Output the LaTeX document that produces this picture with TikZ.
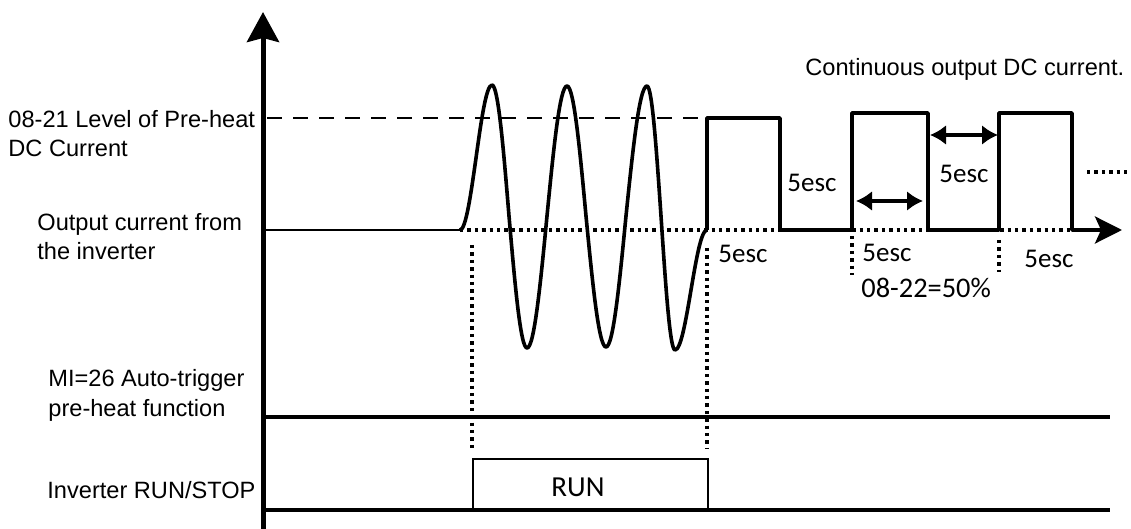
\documentclass[tikz,border=0pt]{standalone}
\usepackage{fontspec}
\setmainfont{Liberation Sans}
\newfontfamily\calibri{Carlito}
\usetikzlibrary{arrows.meta}

\tikzset{
  lbl/.style={anchor=base west, inner sep=0pt, align=left, font=\fontsize{11.8}{14.5}\selectfont},
  sec/.style={anchor=base west, inner sep=0pt, font=\calibri\fontsize{13.5}{16}\selectfont},
  wave/.style={line width=1.8pt, line join=round},
  dots/.style={line width=1.7pt, dash pattern=on 1.7pt off 2pt},
  sigline/.style={line width=2pt},
  span/.style={line width=2pt, {Latex[length=8pt,width=10pt]}-{Latex[length=8pt,width=10pt]}},
}

\begin{document}
\begin{tikzpicture}[x=0.5pt, y=-0.5pt]
  \useasboundingbox (0,0) rectangle (1131,529);
  % axis
  \draw[line width=2.5pt, -{Stealth[length=15pt,width=16pt,inset=2pt]}] (263,529) -- (263,12);
  \draw[line width=0.8pt, dash pattern=on 7.5pt off 5.5pt] (267,118) -- (700,118);
  \draw[line width=1.4pt] (263,230) -- (460,230);
  \draw[dots] (460,230) -- (1100,230);
  \draw[dots] (472,245) -- (472,448);
  \draw[dots] (707,248) -- (707,448);
  \draw[dots] (852,236) -- (852,275);
  \draw[dots] (999,240) -- (999,272);
  \draw[dots] (1087,172) -- (1131,172);
  \draw[sigline] (263,417) -- (1110,417);
  \draw[sigline] (263,510) -- (1110,510);
  % pre-heat wave and DC pulses
  \draw[wave] (460,230) cos (476,158) sin (492,85) cos (509,216) sin (527,348)
    cos (547,216) sin (567,86) cos (586,216) sin (606,347)
    cos (626,216) sin (647,86) cos (661,216) sin (675,350)
    cos (691,290) sin (707,230);
  \draw[wave, -{Stealth[length=13.5pt,width=13.5pt,inset=3pt]}] (707,230) -- (707,118) -- (780,118) -- (780,230)
    -- (852,230) -- (852,113) -- (928,113) -- (928,230) -- (999,230) -- (999,113)
    -- (1072,113) -- (1072,230) -- (1122,230);
  \draw[span] (856,201) -- (923,201);
  \draw[span] (930,135) -- (998,135);
  \draw[line width=0.8pt] (473,510) -- (473,459) -- (708,459) -- (708,510);
  % labels (base = last line)
  \node[lbl] (lvl) at (8,157) {08-21 Level of Pre-heat\\DC Current};
  \node[lbl] (outcur) at (37,260) {Output current from\\the inverter};
  \node[lbl] (mi) at (48,416) {MI=26 Auto-trigger\\pre-heat function};
  \node[lbl] (runstop) at (47,499) {Inverter RUN/STOP};
  \node[lbl] (cont) at (805,76) {Continuous output DC current.};
  \node[sec] (offa) at (787,192) {5esc};
  \node[sec] (offb) at (939,183) {5esc};
  \node[sec] (ona) at (718,263) {5esc};
  \node[sec] (onb) at (862,262) {5esc};
  \node[sec] (onc) at (1024,268) {5esc};
  \node[sec, font=\calibri\fontsize{14.2}{16}\selectfont] (duty) at (861,298) {08-22=50\%};
  \node[sec, anchor=base, font=\calibri\fontsize{14.5}{16}\selectfont] (run) at (578,496) {RUN};
\end{tikzpicture}
\end{document}
